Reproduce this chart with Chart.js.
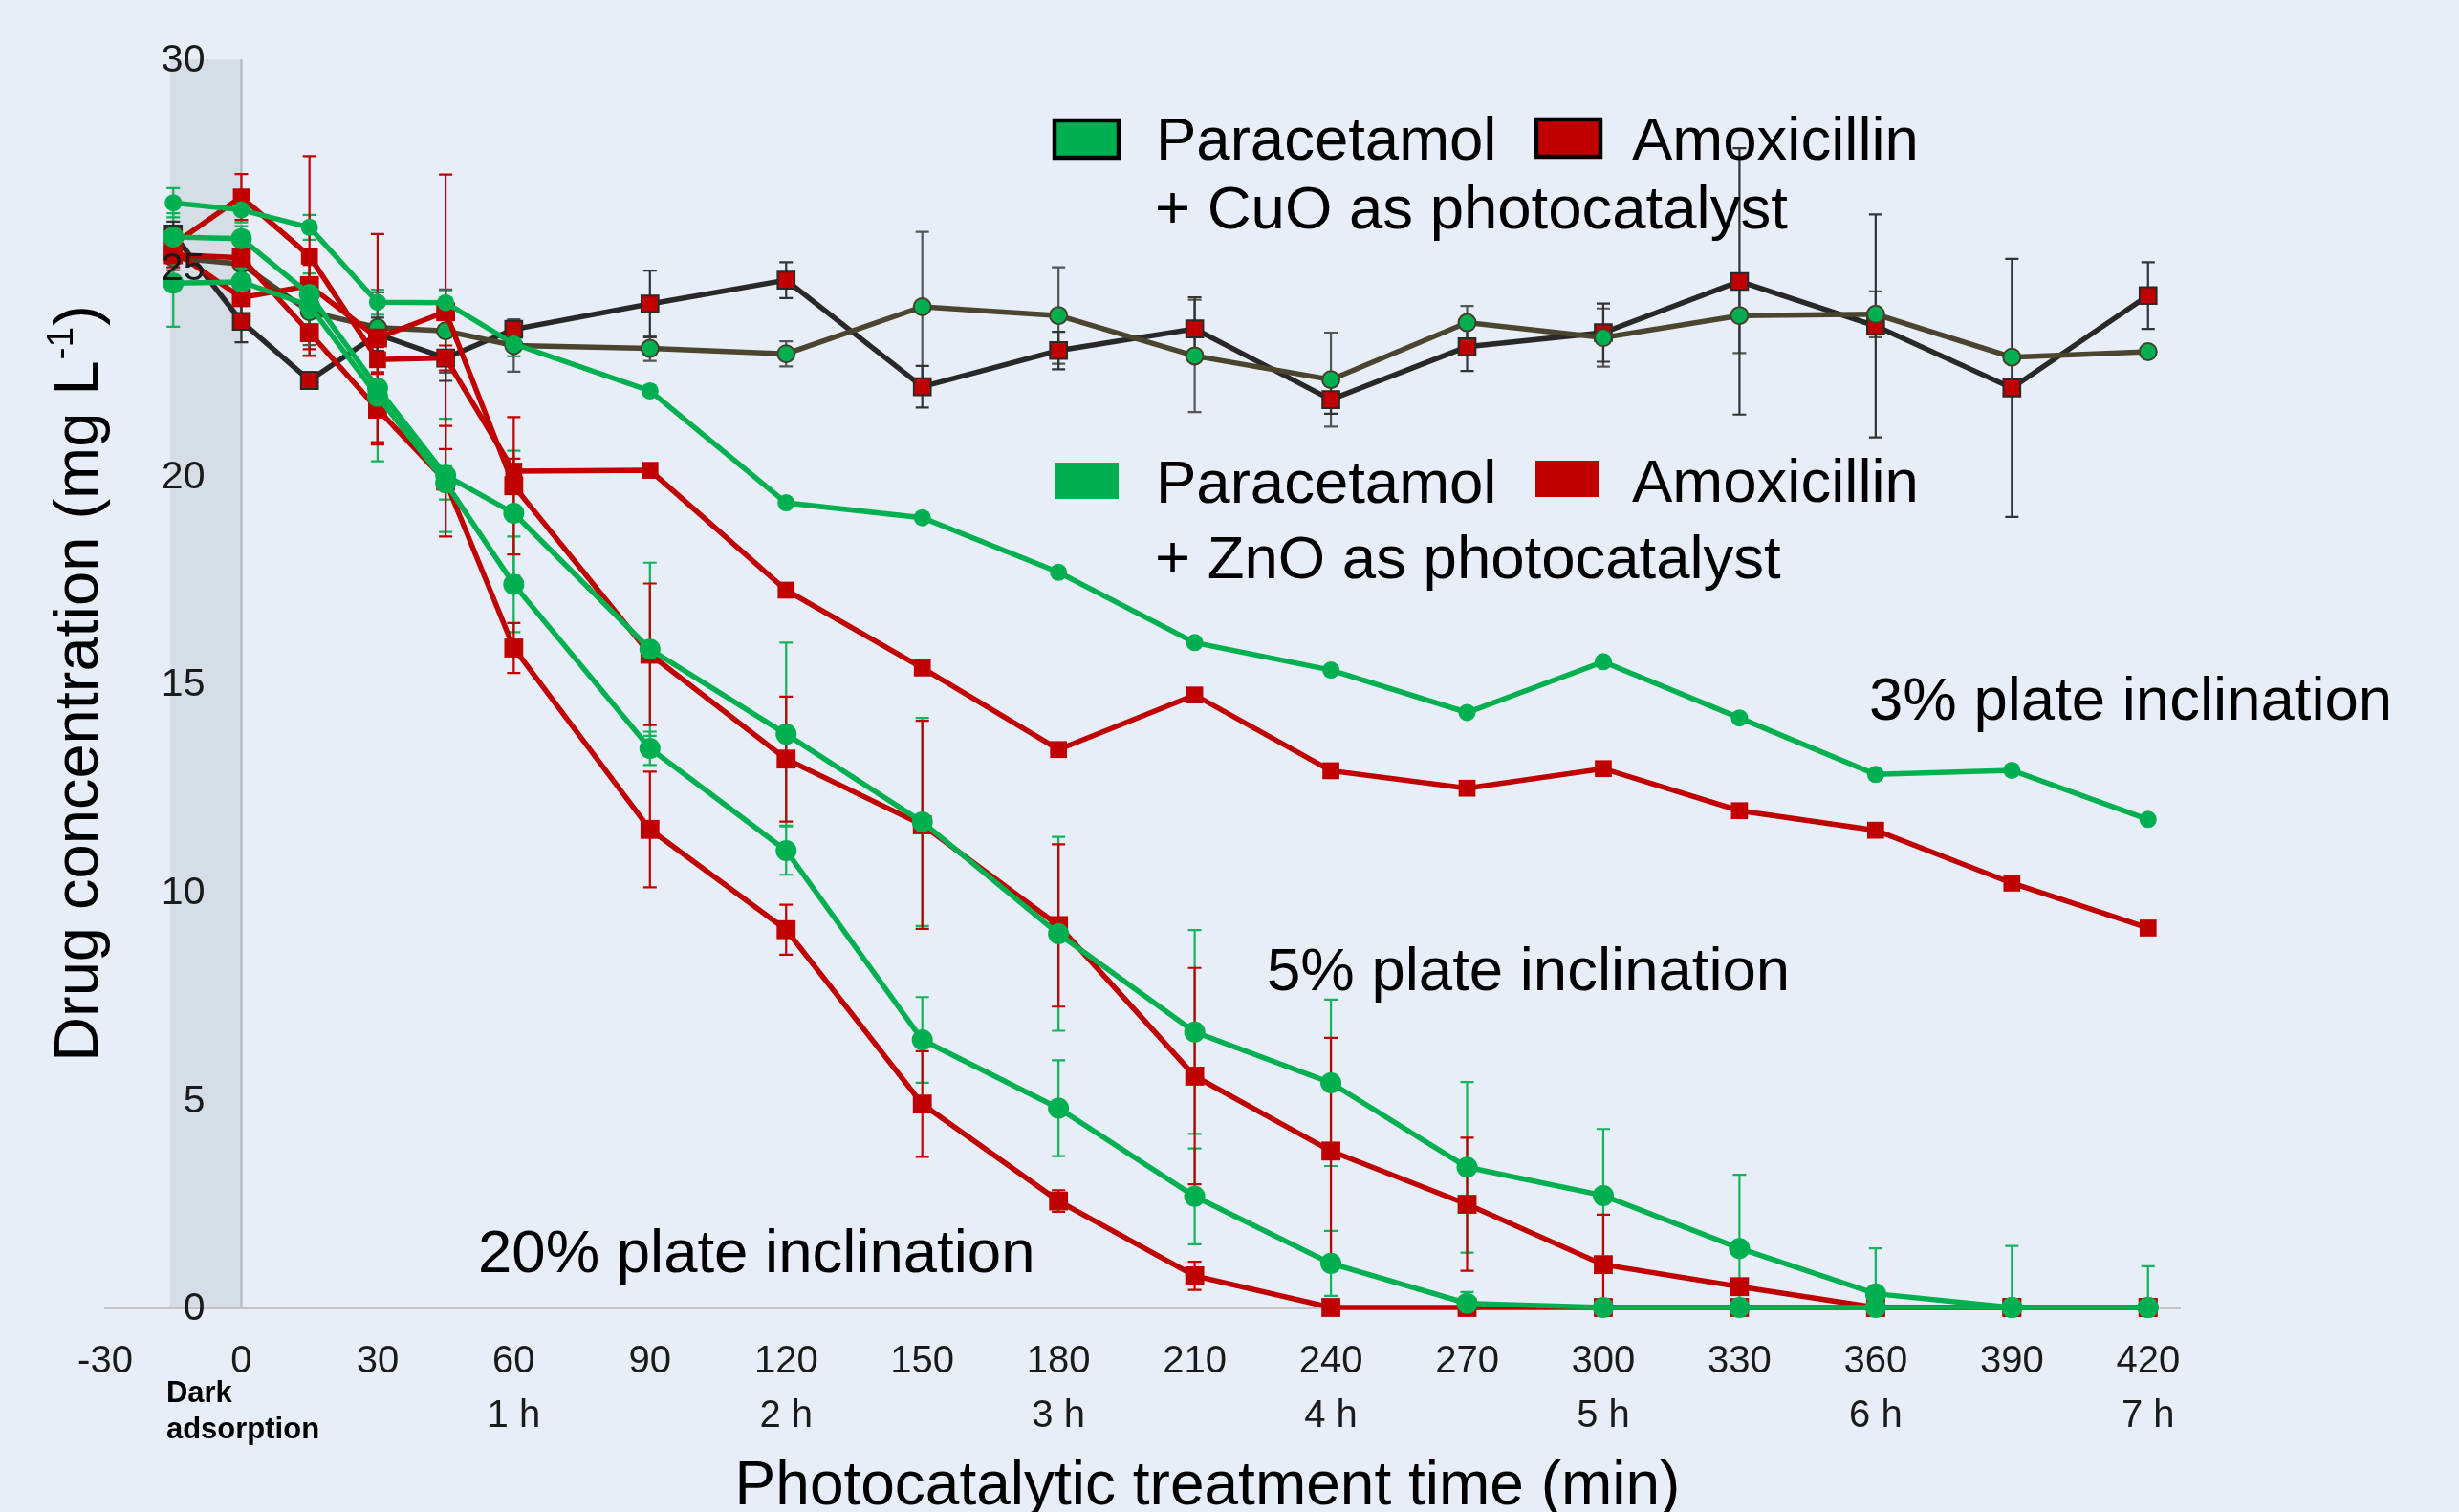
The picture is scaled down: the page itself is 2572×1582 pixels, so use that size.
<!DOCTYPE html>
<html>
<head>
<meta charset="utf-8">
<script src="https://cdn.jsdelivr.net/npm/chart.js@4.4.1/dist/chart.umd.min.js"></script>
<style>
  html, body { margin: 0; padding: 0; background: #e7eef8; }
  canvas { display: block; }
</style>
</head>
<body>
<canvas id="chart" width="2572" height="1582"></canvas>
<script>
// sampling times (min), -15 = dark adsorption
const times = [-15, 0, 15, 30, 45, 60, 90, 120, 150, 180, 210, 240, 270, 300, 330, 360, 390, 420];

// ZnO, 3% / 5% / 20% plate inclination
const para3  = [26.55, 26.38, 25.96, 24.16, 24.15, 23.16, 22.03, 19.34, 18.98, 17.67, 15.98, 15.32, 14.30, 15.52, 14.17, 12.81, 12.91, 11.73];
const amox3  = [25.55, 26.69, 25.27, 22.78, 22.82, 20.10, 20.12, 17.24, 15.37, 13.41, 14.72, 12.90, 12.48, 12.95, 11.94, 11.47, 10.20, 9.12];
const para5  = [25.73, 25.69, 24.35, 22.10, 20.00, 19.09, 15.82, 13.78, 11.67, 8.98, 6.62, 5.40, 3.37, 2.69, 1.42, 0.33, 0, 0];
const amox5  = [25.40, 24.27, 24.56, 23.30, 23.93, 19.75, 15.70, 13.18, 11.60, 9.18, 5.56, 3.76, 2.48, 1.03, 0.50, 0, 0, 0];
const para20 = [24.62, 24.65, 24.08, 21.90, 19.82, 17.38, 13.44, 10.98, 6.43, 4.79, 2.67, 1.06, 0.10, 0, 0, 0, 0, 0];
const amox20 = [25.30, 25.23, 23.43, 21.59, 19.86, 15.85, 11.49, 9.08, 4.89, 2.56, 0.76, 0, 0, 0, 0, 0, 0, 0];
// CuO
const paraCuO = [25.23, 25.08, 23.93, 23.55, 23.47, 23.12, 23.05, 22.92, 24.05, 23.84, 22.87, 22.30, 23.67, 23.31, 23.84, 23.87, 22.84, 22.97];
const amoxCuO = [25.80, 23.70, 22.28, 23.39, 22.82, 23.51, 24.12, 24.69, 22.13, 23.00, 23.52, 21.82, 23.09, 23.43, 24.66, 23.59, 22.10, 24.32];

// standard deviations (error bars)
const errPara3   = [0.35, 0.3, 0.3, 0.3, 0.3, 0.3, 0, 0, 0, 0, 0, 0, 0, 0, 0, 0, 0, 0];
const errAmox3   = [0.3, 0.55, 2.4, 0.3, 0.3, 0.3, 0, 0, 0, 0, 0, 0, 0, 0, 0, 0, 0, 0];
const errPara5   = [0.57, 0.3, 0.5, 1.33, 1.36, 1.5, 2.08, 2.2, 2.5, 2.33, 2.45, 2.0, 2.05, 1.6, 1.77, 1.09, 1.48, 0.99];
const errAmox5   = [0.3, 0.4, 0.5, 2.5, 3.3, 1.65, 1.7, 1.5, 2.5, 1.95, 2.6, 2.72, 1.6, 1.2, 0, 0, 0, 0];
const errPara20  = [1.05, 0.3, 1.2, 1.56, 0.4, 1.15, 0.4, 0.58, 1.03, 1.15, 1.15, 0.78, 0.27, 0, 0, 0, 0, 0];
const errAmox20  = [0.3, 0.3, 0.4, 0.85, 1.33, 0.6, 1.39, 0.6, 1.27, 0.26, 0.34, 0, 0, 0, 0, 0, 0, 0];
const errParaCuO = [0.3, 0.3, 0.8, 0.85, 1.0, 0.63, 0.3, 0.3, 1.8, 1.16, 1.35, 1.13, 0.4, 0.7, 0.9, 0.55, 0, 0];
const errAmoxCuO = [0.3, 0.5, 0.2, 0.4, 0.55, 0.2, 0.8, 0.43, 0.5, 0.45, 0.76, 0.34, 0.58, 0.7, 3.2, 2.68, 3.1, 0.8];

// axes
const xTicks = [-30, 0, 30, 60, 90, 120, 150, 180, 210, 240, 270, 300, 330, 360, 390, 420];
const hourTicks = [60, 120, 180, 240, 300, 360, 420];
const hourLabels = ['1 h', '2 h', '3 h', '4 h', '5 h', '6 h', '7 h'];
const yTicks = [0, 5, 10, 15, 20, 25, 30];
const darkPhase = [-15.7, 0];

const FONT = '"Liberation Sans", Arial, sans-serif';
const GREEN = '#00b050', RED = '#c00000';

const pts = vals => times.map((t, i) => ({ x: t, y: vals[i] }));

function series(label, vals, errs, o){
  return Object.assign({
    label, data: pts(vals), errors: errs,
    borderWidth: 5.5, pointBorderWidth: 0, clip: false, tension: 0
  }, o);
}

const datasets = [
  series('Paracetamol ZnO 20%', para20, errPara20, { borderColor: GREEN, pointBackgroundColor: GREEN, pointStyle: 'circle', pointRadius: 11, errorColor: '#12b35a' }),
  series('Paracetamol ZnO 5%', para5, errPara5, { borderColor: GREEN, pointBackgroundColor: GREEN, pointStyle: 'circle', pointRadius: 11, errorColor: '#12b35a' }),
  series('Paracetamol ZnO 3%', para3, errPara3, { borderColor: GREEN, pointBackgroundColor: GREEN, pointStyle: 'circle', pointRadius: 9, errorColor: '#12b35a' }),
  series('Amoxicillin ZnO 20%', amox20, errAmox20, { borderColor: RED, pointBackgroundColor: RED, pointStyle: 'rect', pointRadius: 14, errorColor: RED }),
  series('Amoxicillin ZnO 5%', amox5, errAmox5, { borderColor: RED, pointBackgroundColor: RED, pointStyle: 'rect', pointRadius: 14, errorColor: RED }),
  series('Amoxicillin ZnO 3%', amox3, errAmox3, { borderColor: RED, pointBackgroundColor: RED, pointStyle: 'rect', pointRadius: 12.5, errorColor: RED }),
  series('Paracetamol CuO', paraCuO, errParaCuO, { borderColor: '#4b4530', pointBackgroundColor: GREEN, pointBorderColor: '#45402c', pointBorderWidth: 2, pointStyle: 'circle', pointRadius: 9, errorColor: '#555555' }),
  series('Amoxicillin CuO', amoxCuO, errAmoxCuO, { borderColor: '#282828', pointBackgroundColor: RED, pointBorderColor: '#2a2a2a', pointBorderWidth: 2, pointStyle: 'rect', pointRadius: 12.5, errorColor: '#333333' })
];

const decor = {
  id: 'decor',
  beforeDraw(chart){
    const { ctx, width, height, scales: { x, y } } = chart;
    ctx.save();
    ctx.fillStyle = '#e7eef8';
    ctx.fillRect(0, 0, width, height);
    const x0 = x.getPixelForValue(darkPhase[0]), x1 = x.getPixelForValue(darkPhase[1]);
    const yTop = y.getPixelForValue(30), yBot = y.getPixelForValue(0);
    ctx.fillStyle = '#d5dde7';
    ctx.fillRect(x0, yTop, x1 - x0, yBot - yTop);
    ctx.strokeStyle = '#bcbec3';
    ctx.lineWidth = 2.5;
    ctx.beginPath();
    ctx.moveTo(x1, yTop);
    ctx.lineTo(x1, yBot);
    ctx.stroke();
    ctx.restore();
  },
  beforeDatasetsDraw(chart){
    const { ctx, scales: { x, y } } = chart;
    ctx.save();
    ctx.lineWidth = 2.2;
    chart.data.datasets.forEach(ds => {
      if(!ds.errors) return;
      ctx.strokeStyle = ds.errorColor;
      ds.data.forEach((p, i) => {
        const e = ds.errors[i];
        if(!e) return;
        const px = x.getPixelForValue(p.x);
        const hi = y.getPixelForValue(p.y + e);
        const loVal = p.y - e;
        const lo = y.getPixelForValue(Math.max(loVal, 0));
        ctx.beginPath();
        ctx.moveTo(px, hi); ctx.lineTo(px, lo);
        ctx.moveTo(px - 7, hi); ctx.lineTo(px + 7, hi);
        if(loVal >= 0){ ctx.moveTo(px - 7, lo); ctx.lineTo(px + 7, lo); }
        ctx.stroke();
      });
    });
    ctx.restore();
  },
  afterDraw(chart){
    const { ctx, scales: { x, y } } = chart;
    ctx.save();

    // y tick labels
    ctx.font = '41px ' + FONT;
    ctx.textAlign = 'right';
    ctx.textBaseline = 'middle';
    ctx.fillStyle = '#1a1a1a';
    yTicks.forEach(v => ctx.fillText(String(v), x.getPixelForValue(0) - 38, y.getPixelForValue(v) + 2));

    // dark adsorption label
    ctx.fillStyle = '#000';
    ctx.textAlign = 'left';
    ctx.textBaseline = 'alphabetic';
    ctx.font = 'bold 31px ' + FONT;
    const dx = x.getPixelForValue(darkPhase[0]) - 4;
    ctx.fillText('Dark', dx, 1467);
    ctx.fillText('adsorption', dx, 1505);

    // x title
    ctx.font = '64px ' + FONT;
    ctx.textAlign = 'center';
    ctx.fillText('Photocatalytic treatment time (min)', 1263, 1574);

    // y title with superscript
    ctx.save();
    ctx.translate(102, 716);
    ctx.rotate(-Math.PI / 2);
    ctx.textAlign = 'left';
    const main = 'Drug concentration (mg L', sup = '-1', close = ')';
    ctx.font = '65px ' + FONT;
    const w1 = ctx.measureText(main).width, w3 = ctx.measureText(close).width;
    ctx.font = '39px ' + FONT;
    const w2 = ctx.measureText(sup).width;
    const sx = -(w1 + w2 + w3) / 2;
    ctx.font = '65px ' + FONT;
    ctx.fillText(main, sx, 0);
    ctx.fillText(close, sx + w1 + w2 + 2, 0);
    ctx.font = '39px ' + FONT;
    ctx.fillText(sup, sx + w1 + 1, -26);
    ctx.restore();

    // inclination labels
    ctx.font = '63.5px ' + FONT;
    ctx.textAlign = 'left';
    ctx.fillText('3% plate inclination', 1955, 753);
    ctx.fillText('5% plate inclination', 1325, 1036);
    ctx.fillText('20% plate inclination', 500, 1331);

    // legend: CuO (outlined boxes)
    ctx.lineWidth = 4.5;
    ctx.strokeStyle = '#000';
    ctx.fillStyle = GREEN;
    ctx.fillRect(1103, 126, 67, 39); ctx.strokeRect(1103, 126, 67, 39);
    ctx.fillStyle = RED;
    ctx.fillRect(1607, 125, 67, 39); ctx.strokeRect(1607, 125, 67, 39);
    ctx.fillStyle = '#000';
    ctx.fillText('Paracetamol', 1209, 167);
    ctx.fillText('Amoxicillin', 1707, 167);
    ctx.fillText('+ CuO as photocatalyst', 1208, 239);

    // legend: ZnO (plain boxes)
    ctx.fillStyle = GREEN;
    ctx.fillRect(1103, 484, 67, 38);
    ctx.fillStyle = RED;
    ctx.fillRect(1606, 482, 67, 38);
    ctx.fillStyle = '#000';
    ctx.fillText('Paracetamol', 1209, 526);
    ctx.fillText('Amoxicillin', 1707, 525);
    ctx.fillText('+ ZnO as photocatalyst', 1208, 605);

    ctx.restore();
  }
};

new Chart(document.getElementById('chart'), {
  type: 'line',
  data: { datasets },
  options: {
    responsive: false,
    devicePixelRatio: 1,
    animation: false,
    layout: { padding: { left: 110, right: 292, top: 62, bottom: 0 } },
    plugins: { legend: { display: false }, tooltip: { enabled: false } },
    scales: {
      x: {
        type: 'linear', min: -30, max: 427,
        grid: { display: false, drawTicks: false },
        border: { display: true, color: '#c3c3c3', width: 3 },
        afterBuildTicks: s => { s.ticks = xTicks.map(v => ({ value: v })); },
        afterFit: s => { s.height = 214; },
        ticks: {
          autoSkip: false, maxRotation: 0, minRotation: 0, padding: 29,
          color: '#1a1a1a',
          font: { family: FONT, size: 40, lineHeight: 1.41 },
          callback: v => {
            const i = hourTicks.indexOf(v);
            return i >= 0 ? [String(v), hourLabels[i]] : String(v);
          }
        }
      },
      y: { display: false, min: 0, max: 30 }
    }
  },
  plugins: [decor]
});
</script>
</body>
</html>
